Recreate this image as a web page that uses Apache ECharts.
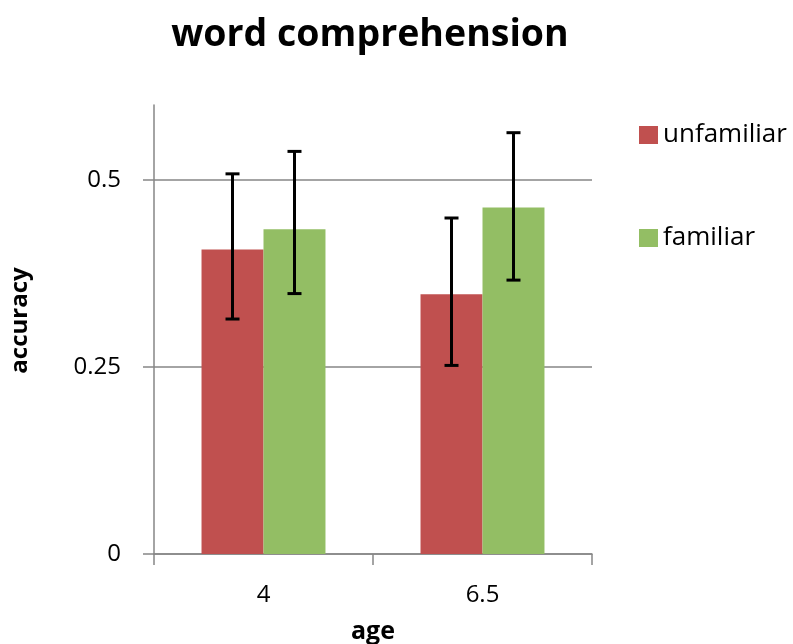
<!DOCTYPE html>
<html>
<head>
<meta charset="utf-8">
<script src="https://cdn.jsdelivr.net/npm/echarts@6/dist/echarts.min.js"></script>
<style>html,body{margin:0;padding:0;background:#fff;}#c{width:793px;height:644px;}</style>
</head>
<body>
<div id="c"></div>
<script>
const categories = ['4', '6.5'];
const seriesNames = ['unfamiliar', 'familiar'];
const unfamiliar = [0.407, 0.347];
const familiar = [0.434, 0.463];
const unfamiliarHigh = [0.508, 0.449];
const unfamiliarLow = [0.314, 0.252];
const familiarHigh = [0.538, 0.563];
const familiarLow = [0.348, 0.366];
const yTicks = [0, 0.25, 0.5];

const FONT = 'Open Sans';
const BAR_RATIO = 0.283;
const colors = ['#C0504F', '#93BE64'];

function errSeries(name, hi, lo, side) {
  return {
    type: 'custom',
    name: name + ' err',
    z: 5,
    silent: true,
    encode: { x: 0, y: [1, 2] },
    data: categories.map((c, i) => [i, hi[i], lo[i]]),
    renderItem: function (params, api) {
      const idx = api.value(0);
      const top = api.coord([idx, api.value(1)]);
      const bot = api.coord([idx, api.value(2)]);
      const band = api.size([1, 0])[0];
      const x = top[0] + side * band * BAR_RATIO / 2;
      const cap = 7;
      const style = { stroke: '#000', lineWidth: 3, fill: null };
      return {
        type: 'group',
        children: [
          { type: 'line', shape: { x1: x, y1: top[1], x2: x, y2: bot[1] }, style },
          { type: 'line', shape: { x1: x - cap, y1: top[1], x2: x + cap, y2: top[1] }, style },
          { type: 'line', shape: { x1: x - cap, y1: bot[1], x2: x + cap, y2: bot[1] }, style }
        ]
      };
    }
  };
}

const chart = echarts.init(document.getElementById('c'), null, { renderer: 'canvas' });
chart.setOption({
  animation: false,
  backgroundColor: '#fff',
  textStyle: { fontFamily: FONT },
  title: {
    text: 'word comprehension',
    left: 365, top: 11, textAlign: 'center',
    textStyle: { fontFamily: FONT, fontSize: 37.5, fontWeight: 'bold', color: '#000' }
  },
  legend: {
    data: seriesNames,
    orient: 'vertical',
    left: 634, top: 117,
    itemWidth: 19, itemHeight: 18, itemGap: 77,
    icon: 'rect',
    textStyle: { fontFamily: FONT, fontSize: 26, color: '#000' }
  },
  grid: { left: 154, right: 201, top: 105, bottom: 90, containLabel: false, outerBoundsMode: 'none' },
  xAxis: {
    type: 'category',
    data: categories,
    name: 'age',
    nameLocation: 'middle',
    nameGap: 65,
    nameTextStyle: { fontFamily: FONT, fontSize: 25, fontWeight: 'bold', color: '#000' },
    axisLine: { lineStyle: { color: '#868686', width: 1.5 } },
    axisTick: { show: true, length: 11, lineStyle: { color: '#868686', width: 1.5 } },
    axisLabel: { fontFamily: FONT, fontSize: 24, color: '#000', margin: 29 }
  },
  yAxis: {
    type: 'value',
    min: 0, max: 0.6,
    name: 'accuracy',
    nameLocation: 'middle',
    nameGap: 122,
    nameRotate: 90,
    nameTextStyle: { fontFamily: FONT, fontSize: 24, fontWeight: 'bold', color: '#000', padding: [0, 0, 0, 18] },
    axisLine: { show: true, lineStyle: { color: '#868686', width: 1.5 } },
    axisTick: { show: true, length: 11, inside: false, customValues: yTicks, lineStyle: { color: '#868686', width: 1.5 } },
    axisLabel: { fontFamily: FONT, fontSize: 24, color: '#000', margin: 33, customValues: yTicks },
    splitLine: { show: true, lineStyle: { color: '#868686', width: 1.5 } }
  },
  series: [
    { type: 'bar', name: seriesNames[0], data: unfamiliar, barWidth: (BAR_RATIO * 100) + '%', barGap: '0%', itemStyle: { color: colors[0] } },
    { type: 'bar', name: seriesNames[1], data: familiar, barWidth: (BAR_RATIO * 100) + '%', barGap: '0%', itemStyle: { color: colors[1] } },
    errSeries(seriesNames[0], unfamiliarHigh, unfamiliarLow, -1),
    errSeries(seriesNames[1], familiarHigh, familiarLow, 1)
  ]
});
</script>
</body>
</html>
